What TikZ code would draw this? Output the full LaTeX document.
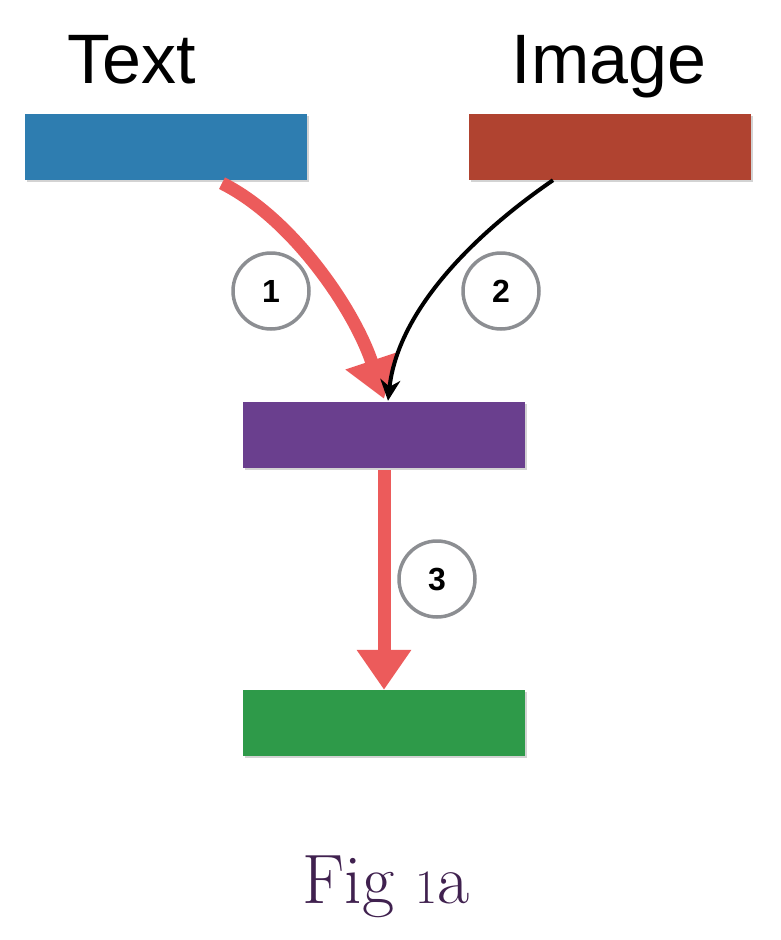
\documentclass[tikz,border=0pt]{standalone}
\usepackage{fontspec}
\newfontfamily\headfont{Liberation Sans}
\usetikzlibrary{arrows.meta,shadows}
\definecolor{txtblue}{RGB}{46,125,176}
\definecolor{imgred}{RGB}{176,67,48}
\definecolor{jointpurple}{RGB}{106,63,142}
\definecolor{outgreen}{RGB}{46,154,73}
\definecolor{chalkred}{RGB}{236,91,91}
\definecolor{ringgray}{RGB}{140,142,146}
\definecolor{capplum}{RGB}{64,33,79}
\tikzset{
  bar/.style={minimum width=282pt, minimum height=66pt, inner sep=0pt,
    drop shadow={shadow xshift=2pt, shadow yshift=-2pt, opacity=.35}},
  ring/.style={circle, draw=ringgray, line width=3.5pt, minimum size=76pt, inner sep=0pt,
    font=\headfont\bfseries\fontsize{32}{38}\selectfont},
  chalk/.style={draw=chalkred, line width=13pt, -{Triangle[length=40pt,width=52pt]}}
}
\begin{document}
\begin{tikzpicture}[x=1pt,y=-1pt]
\useasboundingbox (0,0) rectangle (780,940);
\node[font=\headfont\fontsize{70}{84}\selectfont, anchor=base] (textlbl) at (132,83) {Text};
\node[font=\headfont\fontsize{70}{84}\selectfont, anchor=base] (imglbl) at (609,83) {Image};
\node[bar, fill=txtblue] (txt) at (166,147) {};
\node[bar, fill=imgred] (img) at (610,147) {};
\node[bar, fill=jointpurple] (joint) at (384,435) {};
\node[bar, fill=outgreen] (out) at (384,723) {};
\node[ring] (n1) at (271,291) {1};
\node[ring] (n2) at (501,291) {2};
\node[ring] (n3) at (437,579) {3};
\draw[chalk] ([xshift=56pt,yshift=-3pt]txt.south) .. controls +(70,35) and +(-30,-90) .. ([yshift=3pt]joint.north);
\draw[line width=4pt, -{Stealth[length=21pt,width=20pt]}] ([xshift=-57pt]img.south) .. controls +(-80,55) and +(10,-90) .. ([xshift=4pt,yshift=1pt]joint.north);
\draw[chalk] ([yshift=-2pt]joint.south) -- (out.north);
\node[font=\fontsize{70}{84}\selectfont, text=capplum, anchor=base] (cap) at (386,903) {Fig {\fontsize{48}{50}\selectfont 1}a};
\end{tikzpicture}
\end{document}
